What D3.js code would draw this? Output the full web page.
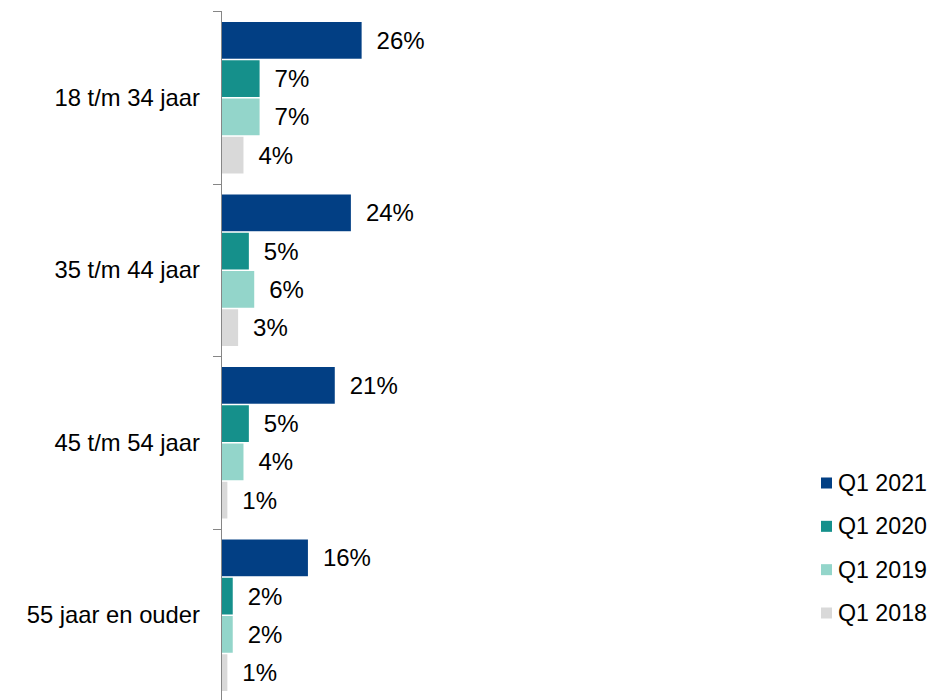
<!DOCTYPE html>
<html>
<head>
<meta charset="utf-8">
<script src="https://cdn.jsdelivr.net/npm/d3@7"></script>
<style>
  html, body { margin: 0; padding: 0; background: #fff; }
  svg { display: block; font-family: "Liberation Sans", Arial, sans-serif; }
</style>
</head>
<body>
<svg id="chart" width="949" height="700"></svg>
<script>
// Age groups (top to bottom)
const categories = ["18 t/m 34 jaar", "35 t/m 44 jaar", "45 t/m 54 jaar", "55 jaar en ouder"];
// Series, in bar order within each group
const seriesNames = ["Q1 2021", "Q1 2020", "Q1 2019", "Q1 2018"];
const q1_2021 = [26, 24, 21, 16];
const q1_2020 = [7, 5, 5, 2];
const q1_2019 = [7, 6, 4, 2];
const q1_2018 = [4, 3, 1, 1];
const seriesColors = ["#023F84", "#15908B", "#93D5CA", "#D9D9D9"];

const seriesValues = [q1_2021, q1_2020, q1_2019, q1_2018];
const rows = categories.map((c, i) => ({
  category: c,
  values: seriesNames.map((s, j) => ({ series: s, value: seriesValues[j][i] }))
}));

const svg = d3.select("#chart");
const axisX = 221;
const barX0 = 222;

const y = d3.scaleBand().domain(categories).range([11, 701]).padding(0);
const yInner = d3.scaleBand().domain(seriesNames)
  .range([11, y.bandwidth() - 10]).paddingInner(0.04).paddingOuter(0);
const x = d3.scaleLinear().domain([0, 100]).range([barX0, barX0 + 537]);
const color = d3.scaleOrdinal().domain(seriesNames).range(seriesColors);

// Vertical category axis with ticks on group boundaries
const axisG = svg.append("g");
axisG.append("line")
  .attr("x1", axisX + 0.5).attr("x2", axisX + 0.5)
  .attr("y1", y.range()[0]).attr("y2", y.range()[1])
  .attr("stroke", "#868686").attr("stroke-width", 1);
const boundaries = categories.map(c => y(c)).concat([y.range()[1]]);
axisG.selectAll("line.tick").data(boundaries).join("line")
  .attr("class", "tick")
  .attr("x1", axisX - 8).attr("x2", axisX + 0.5)
  .attr("y1", d => Math.round(d) + 0.5).attr("y2", d => Math.round(d) + 0.5)
  .attr("stroke", "#868686").attr("stroke-width", 1);

// Category labels
svg.append("g").selectAll("text").data(categories).join("text")
  .attr("x", 200)
  .attr("y", d => y(d) + y.bandwidth() / 2)
  .attr("text-anchor", "end")
  .attr("dominant-baseline", "central")
  .attr("font-size", 23.8)
  .attr("fill", "#000")
  .text(d => d);

// Grouped bars
const groups = svg.append("g").selectAll("g").data(rows).join("g")
  .attr("transform", d => `translate(0,${y(d.category)})`);

groups.selectAll("rect").data(d => d.values).join("rect")
  .attr("x", x(0))
  .attr("y", d => yInner(d.series))
  .attr("width", d => x(d.value) - x(0))
  .attr("height", yInner.bandwidth())
  .attr("fill", d => color(d.series));

groups.selectAll("text").data(d => d.values).join("text")
  .attr("x", d => x(d.value) + 15)
  .attr("y", d => yInner(d.series) + yInner.bandwidth() / 2)
  .attr("dominant-baseline", "central")
  .attr("font-size", 24)
  .attr("fill", "#000")
  .text(d => d.value + "%");

// Legend
const legend = svg.append("g").attr("transform", "translate(821,0)");
const legendY = d3.scalePoint().domain(seriesNames).range([483, 613]);
const items = legend.selectAll("g").data(seriesNames).join("g")
  .attr("transform", d => `translate(0,${legendY(d)})`);
items.append("rect")
  .attr("x", 0).attr("y", -5.5).attr("width", 11).attr("height", 11)
  .attr("fill", d => color(d));
items.append("text")
  .attr("x", 17).attr("y", 0)
  .attr("dominant-baseline", "central")
  .attr("font-size", 23.2)
  .attr("fill", "#000")
  .text(d => d);
</script>
</body>
</html>
